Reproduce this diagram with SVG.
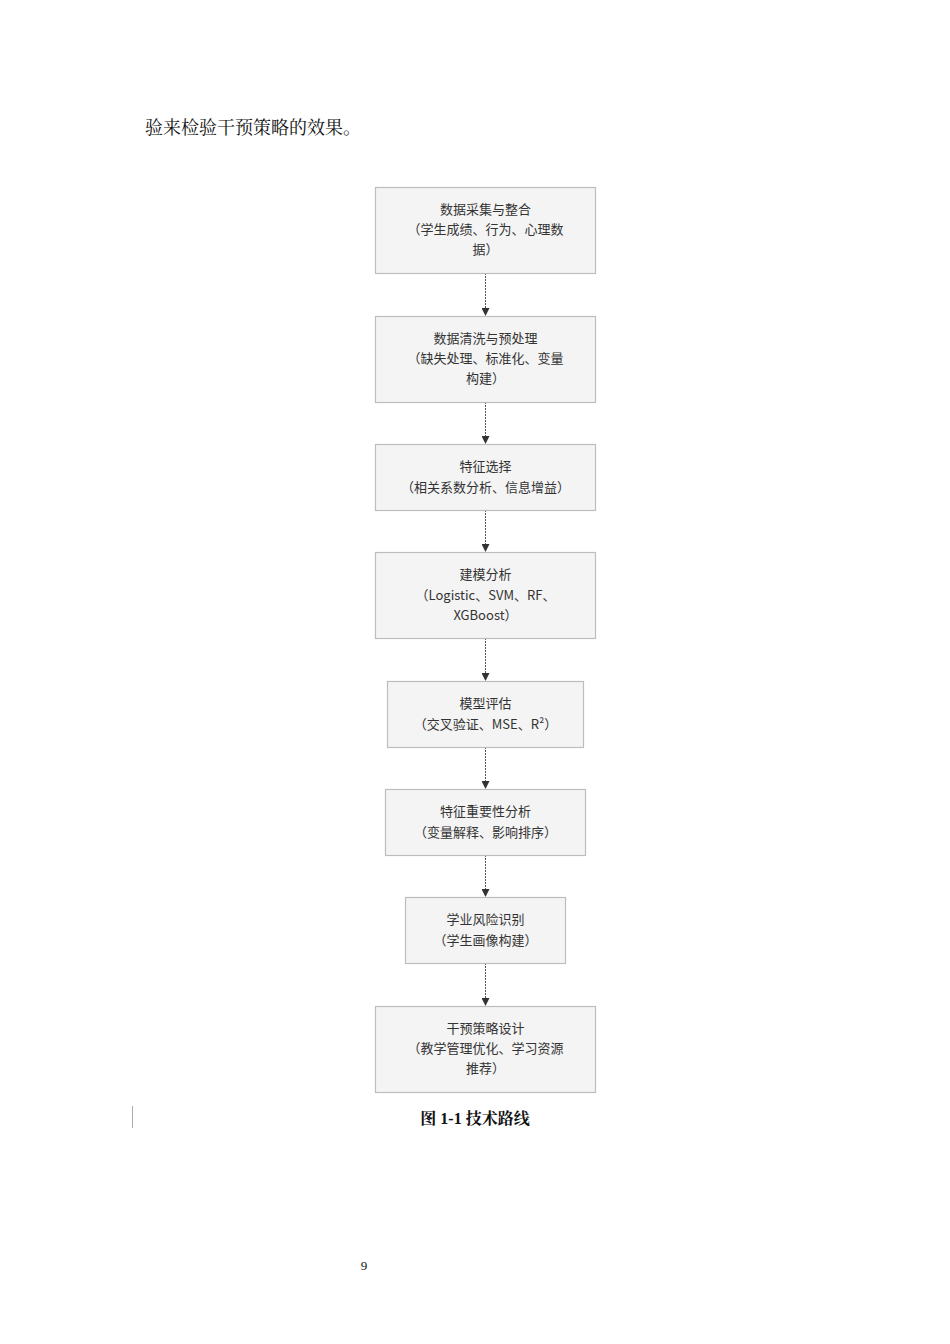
<svg xmlns="http://www.w3.org/2000/svg" width="950" height="1344" viewBox="0 0 950 1344">
<defs>
<marker id="ah" markerWidth="8" markerHeight="8" refX="7" refY="4" orient="auto" markerUnits="userSpaceOnUse"><path d="M0,0 L8,4 L0,8 z" fill="#333"/></marker>
<style>
.box{fill:#f4f4f4;stroke:#bdbdbd;stroke-width:1.2}
.t{font-family:"Noto Sans CJK SC","Noto Sans",sans-serif;font-size:13px;fill:#333;text-anchor:middle}
.c{stroke:#555;stroke-width:1;stroke-dasharray:2,1;fill:none}
</style>
</defs>
<rect width="950" height="1344" fill="#fff"/>
<text x="145" y="134" font-family="'Noto Serif CJK SC','Noto Sans CJK SC',serif" font-size="18" fill="#111">验来检验干预策略的效果。</text>
<g id="connectors">
<line class="c" x1="485.5" y1="273" x2="485.5" y2="315" marker-end="url(#ah)"/>
<line class="c" x1="485.5" y1="402" x2="485.5" y2="443" marker-end="url(#ah)"/>
<line class="c" x1="485.5" y1="510" x2="485.5" y2="551" marker-end="url(#ah)"/>
<line class="c" x1="485.5" y1="638" x2="485.5" y2="680" marker-end="url(#ah)"/>
<line class="c" x1="485.5" y1="747" x2="485.5" y2="788" marker-end="url(#ah)"/>
<line class="c" x1="485.5" y1="855" x2="485.5" y2="896" marker-end="url(#ah)"/>
<line class="c" x1="485.5" y1="963" x2="485.5" y2="1005" marker-end="url(#ah)"/>
</g>
<g id="n1"><rect class="box" x="375.5" y="187.5" width="220" height="86"/><text class="t" x="485.5" y="214">数据采集与整合</text><text class="t" x="485.5" y="234">（学生成绩、行为、心理数</text><text class="t" x="485.5" y="254">据）</text></g>
<g id="n2"><rect class="box" x="375.5" y="316.5" width="220" height="86"/><text class="t" x="485.5" y="343">数据清洗与预处理</text><text class="t" x="485.5" y="363">（缺失处理、标准化、变量</text><text class="t" x="485.5" y="383">构建）</text></g>
<g id="n3"><rect class="box" x="375.5" y="444.5" width="220" height="66"/><text class="t" x="485.5" y="471">特征选择</text><text class="t" x="485.5" y="492">（相关系数分析、信息增益）</text></g>
<g id="n4"><rect class="box" x="375.5" y="552.5" width="220" height="86"/><text class="t" x="485.5" y="579">建模分析</text><text class="t" x="485.5" y="600">（Logistic、SVM、RF、</text><text class="t" x="485.5" y="620">XGBoost）</text></g>
<g id="n5"><rect class="box" x="387.5" y="681.5" width="196" height="66"/><text class="t" x="485.5" y="708">模型评估</text><text class="t" x="485.5" y="729">（交叉验证、MSE、R²）</text></g>
<g id="n6"><rect class="box" x="385.5" y="789.5" width="200" height="66"/><text class="t" x="485.5" y="816">特征重要性分析</text><text class="t" x="485.5" y="837">（变量解释、影响排序）</text></g>
<g id="n7"><rect class="box" x="405.5" y="897.5" width="160" height="66"/><text class="t" x="485.5" y="924">学业风险识别</text><text class="t" x="485.5" y="945">（学生画像构建）</text></g>
<g id="n8"><rect class="box" x="375.5" y="1006.5" width="220" height="86"/><text class="t" x="485.5" y="1033">干预策略设计</text><text class="t" x="485.5" y="1053">（教学管理优化、学习资源</text><text class="t" x="485.5" y="1073">推荐）</text></g>
<line x1="132.5" y1="1106" x2="132.5" y2="1128" stroke="#aaa" stroke-width="1"/>
<text x="475" y="1124" font-family="'Liberation Serif','Noto Serif CJK SC','Noto Sans CJK SC',serif" font-size="16" font-weight="bold" fill="#111" text-anchor="middle">图 1-1 技术路线</text>
<text x="364" y="1270" font-family="'Liberation Serif',serif" font-size="13" fill="#111" text-anchor="middle">9</text>
</svg>
